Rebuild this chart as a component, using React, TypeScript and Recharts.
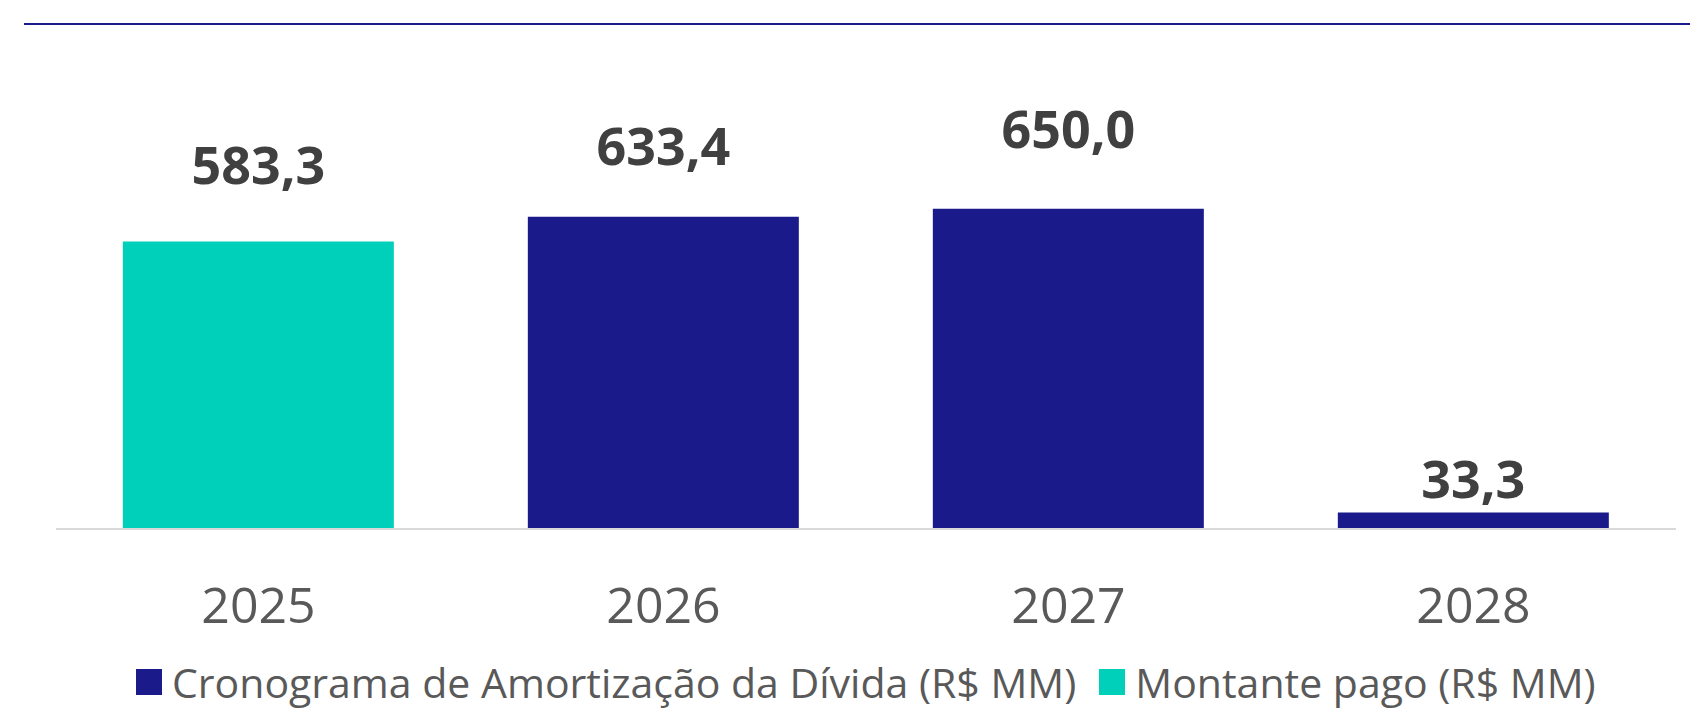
import React from 'react';
import { BarChart, Bar, XAxis, YAxis, LabelList } from 'recharts';

const categories = ['2025', '2026', '2027', '2028'];
const cronograma = [0, 633.4, 650.0, 33.3];
const montantePago = [583.3, 0, 0, 0];
const seriesNames = ['Cronograma de Amortização da Dívida (R$ MM)', 'Montante pago (R$ MM)'];

const NAVY = '#1A1A8A';
const TEAL = '#00CFB9';
const LABEL_GAPS = [58, 52, 61, 15];

const data = categories.map((c, i) => ({
  year: c,
  cronograma: cronograma[i],
  montante: montantePago[i],
}));

const fmt = (v: number) => v.toFixed(1).replace('.', ',');

const makeLabel = (series: number[]) => (props: any) => {
  const { x, y, width, value } = props;
  const i = categories.indexOf(String(value));
  if (i < 0) return null;
  const v = series[i];
  if (!v) return null;
  return (
    <text
      x={Number(x) + Number(width) / 2}
      y={Number(y) - LABEL_GAPS[i]}
      textAnchor="middle"
      fontFamily="'Open Sans', sans-serif"
      fontWeight={700}
      fontSize={52}
      fill="#404040"
    >
      {fmt(v)}
    </text>
  );
};

const renderTick = (props: any) => {
  const { x, y, payload } = props;
  return (
    <text
      x={x}
      y={Number(y) + 86}
      textAnchor="middle"
      fontFamily="'Open Sans', sans-serif"
      fontSize={50}
      fill="#595959"
    >
      {payload.value}
    </text>
  );
};

const LegendBox = () => {
  const items = [
    { name: seriesNames[0], color: NAVY },
    { name: seriesNames[1], color: TEAL },
  ];
  return (
    <div style={{ position: 'absolute', top: 660, left: 136, display: 'flex', alignItems: 'center', height: 44 }}>
      {items.map((it, i) => (
        <div key={i} style={{ display: 'flex', alignItems: 'center', marginRight: 23 }}>
          <div style={{ width: 26, height: 26, background: it.color, marginRight: 10 }} />
          <span style={{ fontFamily: "'Open Sans', sans-serif", fontSize: 41, color: '#595959', lineHeight: '1', whiteSpace: 'nowrap' }}>
            {it.name}
          </span>
        </div>
      ))}
    </div>
  );
};

export default function App() {
  return (
    <div style={{ position: 'absolute', left: 0, top: 0, width: 1690, height: 714, background: '#fff', overflow: 'hidden' }}>
      <div style={{ position: 'absolute', left: 24, top: 23, width: 1666, height: 2, background: NAVY }} />
      <BarChart
        width={1690}
        height={714}
        data={data}
        margin={{ top: 184, right: 14, bottom: 155, left: 56 }}
        barCategoryGap="16.5%"
      >
        <XAxis
          dataKey="year"
          height={30}
          axisLine={{ stroke: '#D9D9D9', strokeWidth: 2 }}
          tickLine={false}
          tick={renderTick}
          interval={0}
        />
        <YAxis hide domain={[0, 700]} />
        <Bar dataKey="cronograma" stackId="a" fill={NAVY} isAnimationActive={false} name={seriesNames[0]}>
          <LabelList dataKey="year" content={makeLabel(cronograma)} />
        </Bar>
        <Bar dataKey="montante" stackId="a" fill={TEAL} isAnimationActive={false} name={seriesNames[1]}>
          <LabelList dataKey="year" content={makeLabel(montantePago)} />
        </Bar>
      </BarChart>
      <LegendBox />
    </div>
  );
}
